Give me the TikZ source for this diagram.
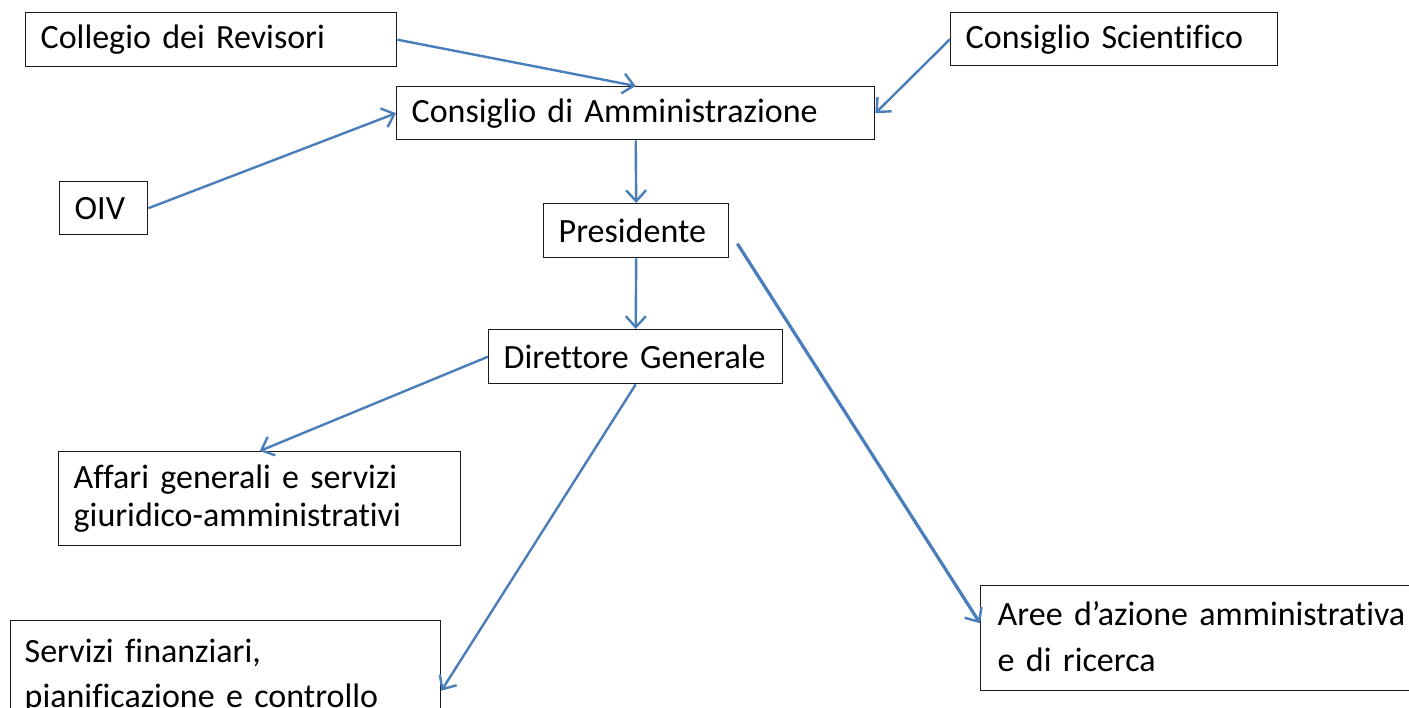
\documentclass[tikz,border=0pt]{standalone}
\usepackage{fontspec}
\setmainfont{Carlito}[Ligatures={NoCommon}]
\usetikzlibrary{arrows.meta}
\definecolor{arrowblue}{HTML}{4A7EBB}
\definecolor{boxline}{HTML}{1A1A1A}
\begin{document}
\begin{tikzpicture}[x=1pt,y=-1pt,
  box/.style={draw=boxline, line width=1.4pt, anchor=north west, align=left,
    inner xsep=15pt, inner ysep=0pt, font=\fontsize{34}{39}\selectfont},
  conn/.style={draw=arrowblue, line width=2.4pt,
    -{Straight Barb[length=11pt,width=20pt,line width=2.4pt]}}
]
\useasboundingbox (0,0) rectangle (1409,708);
\fill[white] (0,0) rectangle (1409,708);
\clip (0,0) rectangle (1409,708);

\node[box, minimum width=371pt, minimum height=54pt, text width=341pt] (col) at (25,12) {\mbox{Collegio dei Revisori}};
\node[box, minimum width=327pt, minimum height=53pt, text width=297pt] (cs) at (950,12) {\mbox{Consiglio Scientifico}};
\node[box, minimum width=478pt, minimum height=53pt, text width=448pt] (cda) at (396,86) {\mbox{Consiglio di Amministrazione}};
\node[box, minimum width=88pt, minimum height=53pt, text width=58pt] (oiv) at (59,181) {\mbox{OIV}};
\node[box, minimum width=185pt, minimum height=54pt, text width=155pt] (pres) at (543,203) {\mbox{Presidente}};
\node[box, minimum width=294pt, minimum height=54pt, text width=264pt] (dg) at (488,329) {\mbox{Direttore Generale}};
\node[box, minimum width=402pt, minimum height=94pt, text width=372pt,
  font=\fontsize{34}{38}\selectfont] (aff) at (58,451) {\mbox{Affari generali e servizi}\\\mbox{giuridico-amministrativi}};
\node[box, minimum width=430pt, minimum height=140pt, text width=402pt, inner xsep=14pt,
  text depth=79pt, font=\fontsize{34}{45}\selectfont] (serv) at (10,620) {\mbox{Servizi finanziari,}\\\mbox{pianificazione e controllo}};
\node[box, minimum width=450pt, minimum height=105pt, text width=416pt, inner xsep=17pt,
  text depth=50pt, font=\fontsize{34}{46}\selectfont] (aree) at (980,585) {\mbox{Aree d’azione amministrativa}\\\mbox{e di ricerca}};

\draw[conn] (col.east) -- (cda.north);
\draw[conn] (cs.west) -- (cda.east);
\draw[conn] (oiv.east) -- (cda.west);
\draw[conn] (cda.south) -- (pres.north);
\draw[conn] (pres.south) -- (dg.north);
\draw[conn] (dg.west) -- (aff.north);
\draw[conn] (dg.south) -- (serv.east);
\draw[conn, line width=3.2pt] ([xshift=8pt,yshift=-13pt]pres.east) -- ([yshift=15pt]aree.west);
\end{tikzpicture}
\end{document}
